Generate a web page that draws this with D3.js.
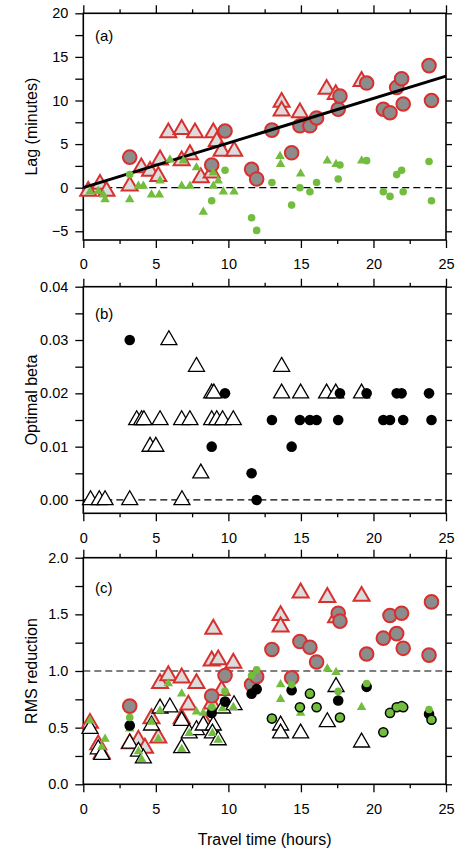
<!DOCTYPE html>
<html>
<head>
<meta charset="utf-8">
<script src="https://cdn.jsdelivr.net/npm/d3@7"></script>
<style>
body { margin: 0; background: #fff; }
text { font-family: "Liberation Sans", Arial, sans-serif; }
</style>
</head>
<body>
<svg id="svg" width="462" height="852"></svg>
<script>
// events drawn as circles (same travel times in all three panels)
var circleHours = [3.2, 8.85, 9.77, 11.6, 11.95, 13.0, 14.36, 14.93, 15.62, 16.08, 17.57, 17.69, 19.53, 20.68, 21.14, 21.6, 21.94, 22.05, 23.83, 24.0];

// (a) lag in minutes
var lagCircle = [3.5, 2.6, 6.5, 2.1, 1.0, 6.6, 4.0, 7.1, 7.1, 8.0, 9.0, 10.5, 12.0, 9.0, 8.6, 11.5, 12.5, 9.6, 14.0, 10.0];
var lagGreenCircle = [1.5, -1.5, 2.0, -3.45, -4.9, 0.6, -2.0, 0.0, -0.46, 0.6, 1.0, 2.6, 3.1, -0.46, -1.0, 1.5, 2.0, -0.46, 3.0, -1.5];
var lagTriHours = [0.34, 1.15, 1.6, 3.2, 4.0, 4.6, 5.17, 5.29, 5.86, 6.78, 7.7, 6.78, 7.35, 8.1, 8.85, 8.96, 9.2, 9.53, 10.4, 13.67, 13.67, 14.93, 16.77, 17.4, 19.18];
var lagTri = [-0.4, 0.4, -0.4, 0.2, 2.3, 1.9, 1.3, 3.2, 6.3, 6.7, 6.3, 3.1, 3.8, 1.15, 1.7, 6.3, 5.3, 4.2, 4.2, 9.8, 8.8, 8.6, 11.3, 10.7, 12.2];
var lagGreenTriHours = [0.46, 1.03, 1.38, 1.5, 3.2, 3.8, 4.14, 4.7, 5.24, 5.29, 5.97, 6.78, 7.35, 6.9, 7.8, 8.27, 8.96, 8.96, 9.3, 9.65, 10.39, 13.56, 13.6, 14.98, 16.82, 17.42, 19.19];
var lagGreenTri = [-0.46, -0.4, -0.8, -1.35, -1.35, 0.2, 0.2, -0.8, -0.8, 0.8, 3.2, 0.2, 0.2, 3.1, 2.3, -2.8, 1.7, 0.2, 0.8, -0.46, -0.46, 3.6, 2.7, 1.6, 3.1, 2.7, 3.1];
var fitHours = [0, 25];
var fitLag = [0, 12.8];

// (b) optimal beta
var betaCircle = [0.03, 0.01, 0.02, 0.005, 0.0, 0.015, 0.01, 0.015, 0.015, 0.015, 0.015, 0.02, 0.02, 0.015, 0.015, 0.02, 0.02, 0.015, 0.02, 0.015];
var betaTriHours = [0.5, 1.1, 1.5, 3.2, 6.8, 8.1, 4.6, 5.0, 3.68, 4.02, 4.18, 5.29, 6.78, 7.35, 8.85, 9.2, 9.6, 10.34, 8.85, 9.0, 13.67, 14.98, 16.77, 17.4, 19.18, 7.8, 13.67, 5.9];
var betaTri = [0, 0, 0, 0, 0, 0.005, 0.01, 0.01, 0.015, 0.015, 0.015, 0.015, 0.015, 0.015, 0.015, 0.015, 0.015, 0.015, 0.02, 0.02, 0.02, 0.02, 0.02, 0.02, 0.02, 0.025, 0.025, 0.03];

// (c) RMS reduction
var rmsCircle = [0.69, 0.78, 0.96, 0.88, 0.95, 1.19, 0.94, 1.26, 1.21, 1.08, 1.51, 1.44, 1.15, 1.29, 1.49, 1.33, 1.51, 1.2, 1.14, 1.61];
var rmsBlackCircle = [0.52, 0.63, 0.73, 0.80, 0.84, 0.58, 0.83, 0.68, 0.80, 0.68, 0.74, 0.59, 0.86, 0.46, 0.63, 0.68, 0.69, 0.68, 0.62, 0.57];
var rmsGreenCircle = [0.59, 0.68, 0.82, 0.96, 1.01, 0.58, 0.88, 0.68, 0.80, 0.68, 0.82, 0.59, 0.89, 0.46, 0.63, 0.68, 0.69, 0.68, 0.66, 0.57];
var rmsTriHours = [0.46, 1.03, 1.27, 3.2, 3.8, 4.25, 4.7, 5.17, 5.29, 5.86, 6.78, 6.78, 7.24, 7.8, 8.4, 8.85, 8.85, 8.96, 9.3, 9.53, 10.34, 13.6, 13.6, 14.98, 16.82, 17.42, 19.18];
var rmsTri = [0.54, 0.35, 0.27, 0.36, 0.39, 0.32, 0.58, 0.41, 0.89, 0.96, 0.94, 0.58, 0.70, 0.89, 0.54, 0.71, 1.09, 1.37, 1.10, 0.83, 1.07, 1.49, 1.39, 1.69, 1.65, 1.47, 1.66];
var rmsOpenTriHours = [0.46, 1.03, 1.27, 3.2, 3.8, 4.14, 4.7, 5.29, 5.97, 6.78, 6.78, 7.3, 7.8, 8.27, 8.96, 8.9, 9.3, 9.6, 10.39, 13.6, 13.6, 14.98, 16.82, 17.42, 19.18];
var rmsOpenTri = [0.49, 0.31, 0.26, 0.36, 0.29, 0.23, 0.52, 0.67, 0.68, 0.56, 0.32, 0.45, 0.48, 0.52, 0.52, 0.45, 0.39, 0.67, 0.70, 0.52, 0.45, 0.45, 0.55, 0.86, 0.37];
var rmsGreenTriHours = [0.46, 1.27, 1.5, 3.2, 3.8, 4.02, 4.7, 5.17, 5.29, 5.86, 6.78, 6.78, 7.3, 7.8, 8.27, 8.9, 9.3, 9.6, 10.34, 13.6, 13.6, 14.98, 16.82, 17.42, 19.18];
var rmsGreenTri = [0.56, 0.33, 0.40, 0.49, 0.29, 0.22, 0.55, 0.40, 0.65, 0.89, 0.31, 0.80, 0.45, 0.64, 0.63, 0.45, 0.39, 0.67, 0.68, 0.88, 0.75, 0.63, 1.02, 0.99, 0.68];

var red = "#d8302f", gray = "#8c8c8c", light = "#dcdcdc", green = "#72bd3e";

var svg = d3.select("svg");
var x = d3.scaleLinear().domain([0, 25]).range([83.3, 446]);
var xMajor = [0, 5, 10, 15, 20, 25];
var xMinor = [2.5, 7.5, 12.5, 17.5, 22.5];

function drawPanel(y, ticks, minor, fmt, title, tag, tagY, dashAt) {
    var top = y.range()[1], bottom = y.range()[0];
    var g = svg.append("g");

    g.append("line")
        .attr("x1", x(0)).attr("x2", x(25))
        .attr("y1", y(dashAt)).attr("y2", y(dashAt))
        .attr("stroke", "#000").attr("stroke-width", 1.2)
        .attr("stroke-dasharray", "7,4");

    g.append("g").attr("transform", "translate(0," + bottom + ")")
        .call(d3.axisBottom(x).tickValues(xMajor).tickSize(8).tickPadding(11).tickFormat(d3.format("d")));
    g.append("g").attr("transform", "translate(0," + bottom + ")")
        .call(d3.axisBottom(x).tickValues(xMinor).tickSize(4).tickFormat(""));
    g.append("g").attr("transform", "translate(0," + top + ")")
        .call(d3.axisTop(x).tickValues(xMajor).tickSize(8).tickFormat(""));
    g.append("g").attr("transform", "translate(0," + top + ")")
        .call(d3.axisTop(x).tickValues(xMinor).tickSize(4).tickFormat(""));
    g.append("g").attr("transform", "translate(" + x(0) + ",0)")
        .call(d3.axisLeft(y).tickValues(ticks).tickSize(8).tickPadding(7).tickFormat(fmt));
    g.append("g").attr("transform", "translate(" + x(0) + ",0)")
        .call(d3.axisLeft(y).tickValues(minor).tickSize(8).tickFormat(""));
    g.append("g").attr("transform", "translate(" + x(25) + ",0)")
        .call(d3.axisRight(y).tickValues(ticks.concat(minor)).tickSize(6).tickFormat(""));

    g.selectAll(".domain").remove();
    g.selectAll(".tick line").attr("stroke-width", 1.3);
    g.selectAll(".tick text").attr("font-size", 14.5).attr("fill", "#000")
        .style("font-family", "'Liberation Sans', Arial, sans-serif");

    g.append("rect")
        .attr("x", x(0)).attr("y", top)
        .attr("width", x(25) - x(0)).attr("height", bottom - top)
        .attr("fill", "none").attr("stroke", "#000").attr("stroke-width", 1.6);

    g.append("text")
        .attr("transform", "translate(37," + ((top + bottom) / 2) + ") rotate(-90)")
        .attr("text-anchor", "middle").attr("font-size", 16)
        .text(title);

    g.append("text")
        .attr("x", 95).attr("y", tagY)
        .attr("font-size", 15)
        .text(tag);
}

function tri(side) {
    return d3.symbol().type(d3.symbolTriangle).size(Math.sqrt(3) / 4 * side * side)();
}

function triangles(y, xs, ys, side, fill, stroke, sw) {
    svg.append("g").selectAll("path")
        .data(xs)
        .enter().append("path")
        .attr("d", tri(side))
        .attr("transform", function (d, i) { return "translate(" + x(d) + "," + y(ys[i]) + ")"; })
        .attr("fill", fill).attr("stroke", stroke).attr("stroke-width", sw);
}

function circles(y, xs, ys, r, fill, stroke, sw) {
    svg.append("g").selectAll("circle")
        .data(xs)
        .enter().append("circle")
        .attr("cx", function (d) { return x(d); })
        .attr("cy", function (d, i) { return y(ys[i]); })
        .attr("r", r)
        .attr("fill", fill).attr("stroke", stroke).attr("stroke-width", sw);
}

// (a)
var ya = d3.scaleLinear().domain([-6, 20]).range([240, 13.3]);
drawPanel(ya, [-5, 0, 5, 10, 15, 20], [-2.5, 2.5, 7.5, 12.5, 17.5], d3.format("d"), "Lag (minutes)", "(a)", 41, 0);
triangles(ya, lagTriHours, lagTri, 16, light, red, 2);
circles(ya, circleHours, lagCircle, 6.8, gray, red, 2);
svg.append("line")
    .attr("x1", x(fitHours[0])).attr("y1", ya(fitLag[0]))
    .attr("x2", x(fitHours[1])).attr("y2", ya(fitLag[1]))
    .attr("stroke", "#000").attr("stroke-width", 3);
triangles(ya, lagGreenTriHours, lagGreenTri, 9.5, green, "none", 0);
circles(ya, circleHours, lagGreenCircle, 3.8, green, "none", 0);

// (b)
var yb = d3.scaleLinear().domain([-0.0025, 0.04]).range([513.3, 286.7]);
drawPanel(yb, [0, 0.01, 0.02, 0.03, 0.04], [0.005, 0.015, 0.025, 0.035], d3.format(".2f"), "Optimal beta", "(b)", 319, 0);
triangles(yb, betaTriHours, betaTri, 16, "#fff", "#000", 1.3);
circles(yb, circleHours, betaCircle, 5.3, "#000", "none", 0);

// (c)
var yc = d3.scaleLinear().domain([0, 2]).range([784.3, 557.7]);
drawPanel(yc, [0, 0.5, 1, 1.5, 2], [0.25, 0.75, 1.25, 1.75], d3.format(".1f"), "RMS reduction", "(c)", 593, 1);
triangles(yc, rmsTriHours, rmsTri, 16, light, red, 2);
circles(yc, circleHours, rmsCircle, 6.8, gray, red, 2);
triangles(yc, rmsOpenTriHours, rmsOpenTri, 16, "#fff", "#000", 1.3);
triangles(yc, rmsGreenTriHours, rmsGreenTri, 9.5, green, "none", 0);
circles(yc, circleHours, rmsBlackCircle, 5.3, "#000", "none", 0);
circles(yc, circleHours, rmsGreenCircle, 3.8, green, "none", 0);

svg.append("text")
    .attr("x", x(12.5)).attr("y", 845)
    .attr("text-anchor", "middle").attr("font-size", 16)
    .text("Travel time (hours)");
</script>
</body>
</html>
